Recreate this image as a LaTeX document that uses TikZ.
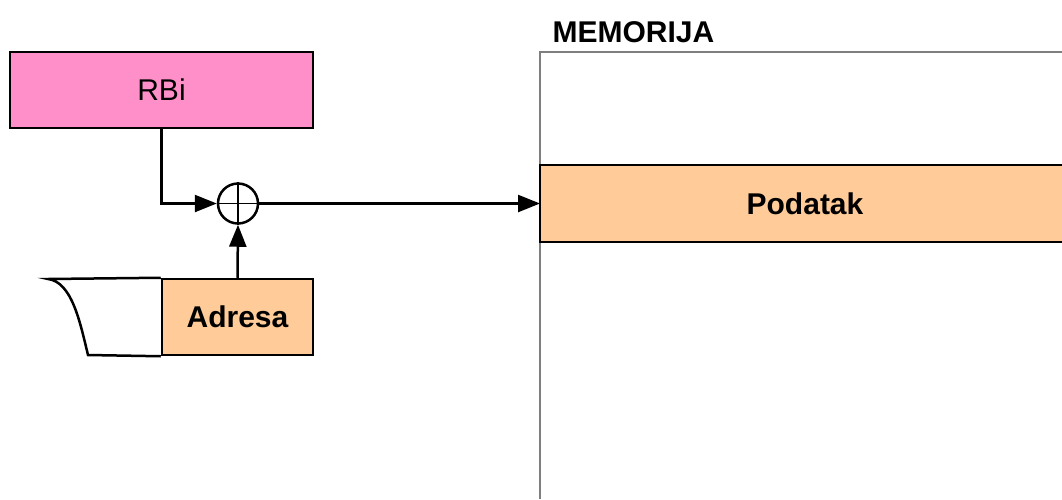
\documentclass[tikz,border=0pt]{standalone}
\usepackage{fontspec}
\setmainfont{Liberation Sans}
\usetikzlibrary{arrows.meta}
\definecolor{regpink}{HTML}{FF8FC8}
\definecolor{cellorange}{HTML}{FFCC99}
\definecolor{memgrey}{HTML}{7F7F7F}
\tikzset{
  txt/.style={font=\fontsize{30}{34}\selectfont},
  box/.style={draw=black, line width=2.5pt, rectangle, inner sep=0pt, txt},
  arr/.style={line width=2.5pt, -{Triangle[length=22pt,width=17pt]}},
}
\begin{document}
\begin{tikzpicture}[x=1pt,y=-1pt]
\useasboundingbox (0,0) rectangle (1062,499);
% memory block (open to the right and bottom)
\coordinate (memtl) at (540,52);
\draw[memgrey, line width=2.5pt] (540,499) -- (memtl) -- (1062,52);
\node[anchor=base west, txt, font=\fontsize{30}{34}\selectfont\bfseries] (memlabel) at (549,42) {MEMORIJA};
% addressed memory cell
\fill[cellorange] (540,165) rectangle (1062,242);
\draw[line width=2.5pt] (1062,165) -- (540,165) -- (540,242) -- (1062,242);
\node[txt, font=\fontsize{30}{34}\selectfont\bfseries] (pod) at (805,203.5) {Podatak};
\coordinate (podw) at (540,203.5);
% base register
\node[box, fill=regpink, minimum width=303pt, minimum height=76pt] (rbi) at (161.5,90) {RBi};
% adder
\node[draw, line width=2.5pt, circle, minimum size=40pt, inner sep=0pt] (sum) at (238,203.5) {};
\draw[line width=1.5pt] (sum.north) -- (sum.south) (sum.west) -- (sum.east);
% instruction with address field
\node[box, fill=cellorange, minimum width=151pt, minimum height=76pt, font=\fontsize{30}{34}\selectfont\bfseries] (adr) at (237.5,317) {Adresa};
\coordinate (itl) at (48,279);
\coordinate (ibl) at (88,355);
\draw[line width=2.5pt, fill=white] (adr.north west) -- (itl) .. controls (72,282) and (80,322) .. (ibl) -- (adr.south west);
% connections
\draw[arr] (rbi.south) |- (sum.west);
\draw[arr] (adr.north) -- (sum.south);
\draw[arr] (sum.east) -- (podw);
\end{tikzpicture}
\end{document}
